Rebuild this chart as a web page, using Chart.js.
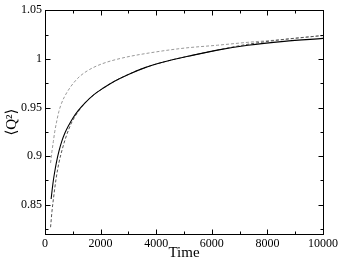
<!DOCTYPE html>
<html>
<head>
<meta charset="utf-8">
<script src="https://cdn.jsdelivr.net/npm/chart.js@4.4.0/dist/chart.umd.min.js"></script>
<style>
  body { margin: 0; background: #fff; }
  #wrap { width: 341px; height: 259px; }
</style>
</head>
<body>
<div id="wrap"><canvas id="myChart" width="341" height="259"></canvas></div>
<script>
// solid curve
var timeSolid = [220, 260, 300, 350, 420, 500, 600, 720, 860, 1000, 1200, 1450, 1750, 2100, 2500, 3000, 3600, 4300, 5200, 6200, 7300, 8600, 10000];
var qSolid    = [0.856, 0.866, 0.875, 0.884, 0.895, 0.905, 0.915, 0.924, 0.932, 0.939, 0.947, 0.955, 0.963, 0.970, 0.977, 0.984, 0.991, 0.997, 1.003, 1.009, 1.014, 1.018, 1.021];

// upper (light) dashed curve
var timeUpper = [200, 250, 300, 350, 415, 500, 590, 700, 890, 1050, 1250, 1600, 2060, 2800, 3740, 5000, 6200, 7300, 8600, 10000];
var qUpper    = [0.893, 0.905, 0.915, 0.925, 0.935, 0.946, 0.954, 0.961, 0.970, 0.976, 0.982, 0.989, 0.995, 1.001, 1.006, 1.011, 1.014, 1.017, 1.020, 1.024];

// lower (dark) dashed curve
var timeLower = [200, 250, 320, 400, 500, 620, 770, 950, 1200, 1450, 1750, 2100, 2500, 3000, 3600, 4300, 5200, 6200, 7300, 8600, 10000];
var qLower    = [0.827, 0.843, 0.860, 0.877, 0.893, 0.907, 0.921, 0.934, 0.946, 0.955, 0.963, 0.970, 0.977, 0.984, 0.991, 0.997, 1.003, 1.009, 1.015, 1.020, 1.024];

var xTicks = [0, 2000, 4000, 6000, 8000, 10000];
var xMinorTicks = [1000, 3000, 5000, 7000, 9000];
var yTicks = [0.85, 0.9, 0.95, 1, 1.05];
var yMinorTicks = [0.825, 0.875, 0.925, 0.975, 1.025];

function pts(t, q) {
    var out = [];
    for (let i = 0; i < t.length; i++) out.push({x: t[i], y: q[i]});
    return out;
}

var serif = "'Liberation Serif', 'Times New Roman', 'DejaVu Serif', serif";

// frame on four sides with inward ticks
var frame = {
    id: "frame",
    afterDraw: function (chart) {
        var ctx = chart.ctx;
        var a = chart.chartArea;
        var x = chart.scales.x, y = chart.scales.y;
        var L = Math.round(a.left) + 0.5, R = Math.round(a.right) + 0.5;
        var T = Math.round(a.top) + 0.5, B = Math.round(a.bottom) + 0.5;
        ctx.save();
        ctx.strokeStyle = "#000";
        ctx.lineWidth = 1;
        ctx.strokeRect(L, T, R - L, B - T);
        ctx.beginPath();
        function xt(v, len) {
            var px = Math.round(x.getPixelForValue(v)) + 0.5;
            ctx.moveTo(px, B); ctx.lineTo(px, B - len);
            ctx.moveTo(px, T); ctx.lineTo(px, T + len);
        }
        function yt(v, len) {
            var py = Math.round(y.getPixelForValue(v)) + 0.5;
            ctx.moveTo(L, py); ctx.lineTo(L + len, py);
            ctx.moveTo(R, py); ctx.lineTo(R - len, py);
        }
        xTicks.forEach(function (v) { xt(v, 5); });
        xMinorTicks.forEach(function (v) { xt(v, 3); });
        yTicks.forEach(function (v) { yt(v, 5); });
        yMinorTicks.forEach(function (v) { yt(v, 3); });
        ctx.stroke();
        ctx.restore();
    }
};

var ctx = document.getElementById("myChart").getContext("2d");
var myChart = new Chart(ctx, {
    type: "line",
    data: {
        datasets: [{
            data: pts(timeSolid, qSolid),
            borderColor: "#000",
            borderWidth: 1.1
        }, {
            data: pts(timeLower, qLower),
            borderColor: "#555",
            borderWidth: 1,
            borderDash: [3, 2]
        }, {
            data: pts(timeUpper, qUpper),
            borderColor: "#999",
            borderWidth: 1,
            borderDash: [3, 2]
        }]
    },
    options: {
        responsive: false,
        animation: false,
        events: [],
        layout: { padding: { top: 5, right: 15, left: 0, bottom: 0 } },
        elements: {
            point: { radius: 0 },
            line: { cubicInterpolationMode: "monotone", fill: false }
        },
        plugins: { legend: { display: false }, tooltip: { enabled: false } },
        scales: {
            x: {
                type: "linear",
                min: 0,
                max: 10000,
                afterBuildTicks: function (s) { s.ticks = xTicks.map(function (v) { return {value: v}; }); },
                afterFit: function (s) { s.height = 25; },
                grid: { display: false, drawTicks: false },
                border: { display: false },
                ticks: {
                    padding: 3,
                    color: "#000",
                    maxRotation: 0,
                    font: { family: serif, size: 12 },
                    callback: function (v) { return String(v); }
                },
                title: {
                    display: true,
                    text: "Time",
                    color: "#000",
                    padding: { top: 0, bottom: -3 },
                    font: { family: serif, size: 15 }
                }
            },
            y: {
                type: "linear",
                min: 0.82,
                max: 1.05,
                afterBuildTicks: function (s) { s.ticks = yTicks.map(function (v) { return {value: v}; }); },
                afterFit: function (s) { s.width = 45; },
                grid: { display: false, drawTicks: false },
                border: { display: false },
                ticks: {
                    padding: 3,
                    color: "#000",
                    font: { family: serif, size: 12 },
                    callback: function (v) { return String(v); }
                },
                title: {
                    display: true,
                    text: "\u27E8Q\u00B2\u27E9",
                    color: "#000",
                    padding: { top: 3, bottom: 0 },
                    font: { family: serif, size: 15 }
                }
            }
        }
    },
    plugins: [frame]
});
</script>
</body>
</html>
